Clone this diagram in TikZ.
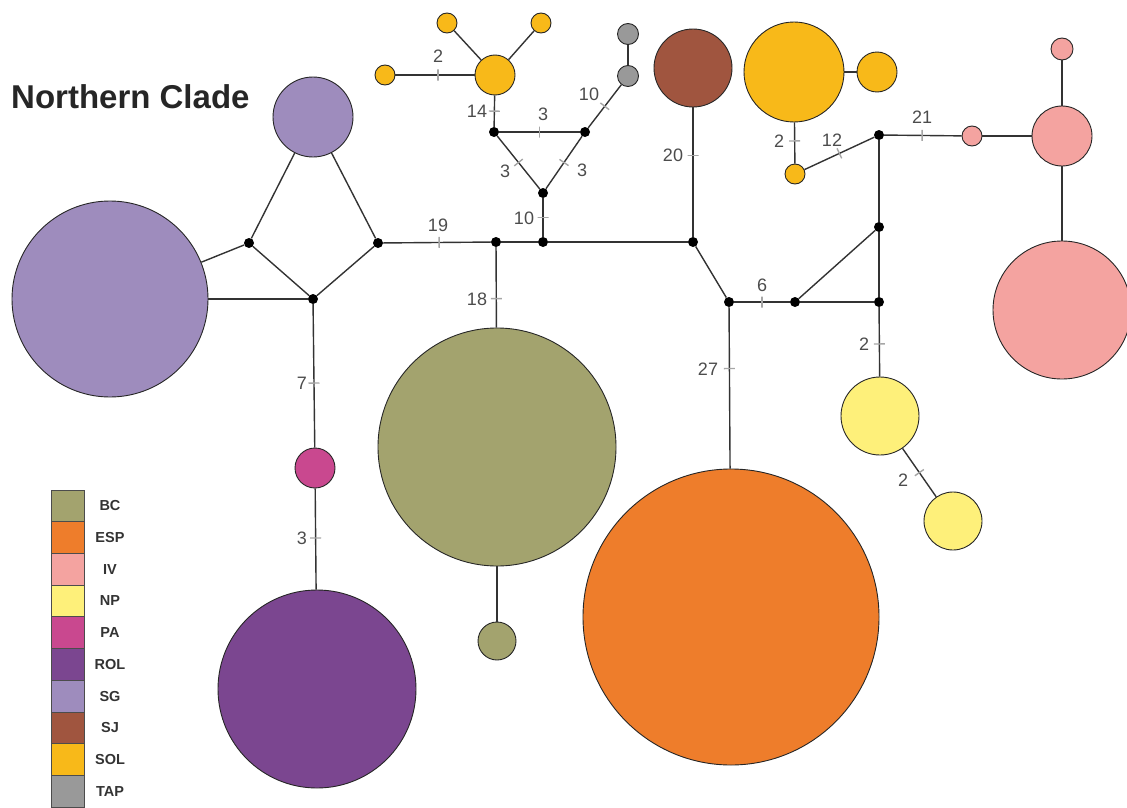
\documentclass[tikz,border=0pt]{standalone}
\usepackage{fontspec}
\setmainfont{Liberation Sans}
\definecolor{cBC}{HTML}{A3A36E}
\definecolor{cESP}{HTML}{EE7D2B}
\definecolor{cIV}{HTML}{F4A3A0}
\definecolor{cNP}{HTML}{FEF07A}
\definecolor{cPA}{HTML}{C9488F}
\definecolor{cROL}{HTML}{7B4690}
\definecolor{cSG}{HTML}{9E8CBD}
\definecolor{cSJ}{HTML}{A0553F}
\definecolor{cSOL}{HTML}{F8B919}
\definecolor{cTAP}{HTML}{999999}
\begin{document}
\begin{tikzpicture}[x=1pt,y=-1pt,
 hap/.style={circle,draw=black!85,line width=0.9pt,inner sep=0pt},
 med/.style={circle,fill=black,inner sep=0pt,minimum size=10pt},
 edge/.style={draw=black!80,line width=1.4pt},
 mtick/.style={rectangle,draw=black!35,line width=1.4pt,minimum width=0pt,minimum height=11pt,inner sep=0pt,sloped},
 lab/.style={text=black!70,font=\fontsize{18}{18}\selectfont,inner sep=0pt},
 leg/.style={rectangle,draw=black!70,line width=0.8pt,minimum width=33pt,minimum height=31.7pt,inner sep=0pt},
 legt/.style={font=\bfseries\fontsize{14.5}{14.5}\selectfont,text=black!80,inner sep=0pt}]
\useasboundingbox (0,0) rectangle (1127,808);
% haplotypes
\node[hap,fill=cSG,minimum size=196pt] (SGb) at (110,299) {};
\node[hap,fill=cSG,minimum size=80pt] (SGs) at (313,117) {};
\node[hap,fill=cPA,minimum size=40pt] (PA) at (315,468) {};
\node[hap,fill=cROL,minimum size=198pt] (ROL) at (317,689) {};
\node[hap,fill=cSOL,minimum size=40pt] (SOLm) at (495,75) {};
\node[hap,fill=cSOL,minimum size=20pt] (SOLl) at (385,75) {};
\node[hap,fill=cSOL,minimum size=20pt] (SOLtl) at (447,23) {};
\node[hap,fill=cSOL,minimum size=20pt] (SOLtr) at (541,23) {};
\node[hap,fill=cTAP,minimum size=21pt] (TAPa) at (628,76) {};
\node[hap,fill=cTAP,minimum size=21pt] (TAPb) at (628,34) {};
\node[hap,fill=cBC,minimum size=238pt] (BCb) at (497,447) {};
\node[hap,fill=cBC,minimum size=38pt] (BCs) at (497,641) {};
\node[hap,fill=cSJ,minimum size=78pt] (SJ) at (693,68) {};
\node[hap,fill=cESP,minimum size=296pt] (ESP) at (731,617) {};
\node[hap,fill=cNP,minimum size=78pt] (NPa) at (880,416) {};
\node[hap,fill=cNP,minimum size=58pt] (NPb) at (953,521) {};
\node[hap,fill=cSOL,minimum size=100pt] (SOLb) at (794,72) {};
\node[hap,fill=cSOL,minimum size=40pt] (SOLr) at (877,72) {};
\node[hap,fill=cSOL,minimum size=20pt] (SOLs) at (795,174) {};
\node[hap,fill=cIV,minimum size=20pt] (IVs) at (972,136) {};
\node[hap,fill=cIV,minimum size=60pt] (IVm) at (1062,136) {};
\node[hap,fill=cIV,minimum size=22pt] (IVt) at (1062,49) {};
\node[hap,fill=cIV,minimum size=138pt] (IVb) at (1062,310) {};
% median vectors
\node[med] (J1) at (249,243) {};
\node[med] (J2) at (378,243) {};
\node[med] (J3) at (313,299) {};
\node[med] (J4) at (496,242) {};
\node[med] (J5) at (543,242) {};
\node[med] (J6) at (693,242) {};
\node[med] (J7) at (543,193) {};
\node[med] (J8) at (494,132) {};
\node[med] (J9) at (585,132) {};
\node[med] (J10) at (729,302) {};
\node[med] (J11) at (795,302) {};
\node[med] (J12) at (879,302) {};
\node[med] (J13) at (879,227) {};
\node[med] (J14) at (879,135) {};
% edges without ticks
\draw[edge] (SGb) -- (J1);
\draw[edge] (SGb) -- (J3);
\draw[edge] (SGs) -- (J1);
\draw[edge] (SGs) -- (J2);
\draw[edge] (J1) -- (J3);
\draw[edge] (J3) -- (J2);
\draw[edge] (SOLm) -- (SOLtl);
\draw[edge] (SOLm) -- (SOLtr);
\draw[edge] (TAPa) -- (TAPb);
\draw[edge] (J4) -- (J5);
\draw[edge] (J5) -- (J6);
\draw[edge] (J6) -- (J10);
\draw[edge] (J11) -- (J12);
\draw[edge] (J11) -- (J13);
\draw[edge] (J13) -- (J12);
\draw[edge] (J13) -- (J14);
\draw[edge] (SOLb) -- (SOLr);
\draw[edge] (IVs) -- (IVm);
\draw[edge] (IVm) -- (IVt);
\draw[edge] (IVm) -- (IVb);
\draw[edge] (BCb) -- (BCs);
% edges with mutation ticks
\draw[edge] (SOLl) -- node[mtick,pos=.54]{} (SOLm);
\draw[edge] (SOLm) -- node[mtick,pos=.5]{} (J8);
\draw[edge] (J8) -- node[mtick,pos=.5]{} (J9);
\draw[edge] (J8) -- node[mtick,pos=.5]{} (J7);
\draw[edge] (J9) -- node[mtick,pos=.5]{} (J7);
\draw[edge] (J7) -- node[mtick,pos=.5]{} (J5);
\draw[edge] (J9) -- node[mtick,pos=.5]{} (TAPa);
\draw[edge] (J2) -- node[mtick,pos=.52]{} (J4);
\draw[edge] (J4) -- node[mtick,pos=.64]{} (BCb);
\draw[edge] (J3) -- node[mtick,pos=.55]{} (PA);
\draw[edge] (PA) -- node[mtick,pos=.49]{} (ROL);
\draw[edge] (J6) -- node[mtick,pos=.63]{} (SJ);
\draw[edge] (J10) -- node[mtick,pos=.5]{} (J11);
\draw[edge] (J10) -- node[mtick,pos=.38]{} (ESP);
\draw[edge] (J12) -- node[mtick,pos=.53]{} (NPa);
\draw[edge] (NPa) -- node[mtick,pos=.5]{} (NPb);
\draw[edge] (SOLb) -- node[mtick,pos=.45]{} (SOLs);
\draw[edge] (SOLs) -- node[mtick,pos=.5]{} (J14);
\draw[edge] (J14) -- node[mtick,pos=.49]{} (IVs);
% mutation counts
\node[lab] (l1) at (438,56) {2};
\node[lab] (l2) at (477,111) {14};
\node[lab] (l3) at (543,114) {3};
\node[lab] (l4) at (505,171) {3};
\node[lab] (l5) at (582,170) {3};
\node[lab] (l6) at (524,218) {10};
\node[lab] (l7) at (589,94) {10};
\node[lab] (l8) at (438,225) {19};
\node[lab] (l9) at (477,299) {18};
\node[lab] (l10) at (302,383) {7};
\node[lab] (l11) at (302,538) {3};
\node[lab] (l12) at (673,155) {20};
\node[lab] (l13) at (762,285) {6};
\node[lab] (l14) at (708,369) {27};
\node[lab] (l15) at (864,344) {2};
\node[lab] (l16) at (903,480) {2};
\node[lab] (l17) at (779,141) {2};
\node[lab] (l18) at (832,140) {12};
\node[lab] (l19) at (922,117) {21};
% title
\node[anchor=base west,inner sep=0pt,font=\bfseries\fontsize{33}{33}\selectfont,text=black!85] (title) at (11,108) {Northern Clade};
% legend
\foreach \c/\t [count=\i from 0] in {cBC/BC,cESP/ESP,cIV/IV,cNP/NP,cPA/PA,cROL/ROL,cSG/SG,cSJ/SJ,cSOL/SOL,cTAP/TAP}{
  \node[leg,fill=\c] (box\i) at (67.5,{490+31.7*(\i+0.5)}) {};
  \node[legt] (txt\i) at (110,{490+31.7*(\i+0.5)}) {\t};
}
\end{tikzpicture}
\end{document}
